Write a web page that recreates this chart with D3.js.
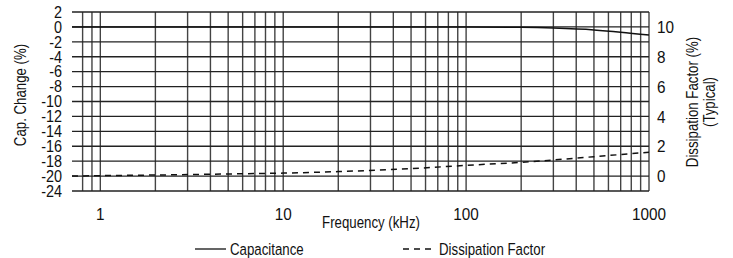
<!DOCTYPE html>
<html>
<head>
<meta charset="utf-8">
<script src="https://cdn.jsdelivr.net/npm/d3@7"></script>
<style>
  body { margin: 0; background: #fff; }
  text { font-family: "Liberation Sans", Arial, sans-serif; fill: #111; }
</style>
</head>
<body>
<script>
'use strict';

// data
const capFreq = [0.7, 1, 10, 100, 200, 300, 500, 700, 1000];
const capChange = [0, 0, 0, 0, -0.05, -0.15, -0.4, -0.7, -1.1];

const dfFreq = [0.7, 1, 2, 5, 10, 20, 50, 100, 200, 500, 1000];
const dfValue = [0.0, 0.03, 0.07, 0.14, 0.2, 0.3, 0.5, 0.72, 0.92, 1.3, 1.6];

const leftTicks = [2, 0, -2, -4, -6, -8, -10, -12, -14, -16, -18, -20, -24];
const rightTicks = [0, 2, 4, 6, 8, 10];
const xLabels = [1, 10, 100, 1000];

const width = 733, height = 258;
const margin = {left: 72, right: 84, top: 12, bottom: 67};

// no condensed font installed, so squeeze the text horizontally
const numScale = 0.9, txtScale = 0.78;

let svg = d3.select("body").append("svg")
    .attr("width", width)
    .attr("height", height);

let x = d3.scaleLog()
    .domain([0.7, 1000])
    .range([margin.left, width - margin.right]);

// the left axis jumps from -20 to -24 in one step
let y = d3.scaleLinear()
    .domain([-24, -20, 2])
    .range([height - margin.bottom, height - margin.bottom - 14.92, margin.top]);

let yDF = d3.scaleLinear()
    .domain([0, 10])
    .range([y(-20), y(0)]);

// vertical grid: every 1-9 step of each decade
let xGrid = [0.8, 0.9];
[1, 10, 100].forEach(function(dec) {
    for (let k = 1; k < 10; k++) xGrid.push(dec * k);
});
xGrid.push(1000);

let grid = svg.append("g");
grid.selectAll("line.v")
    .data(xGrid)
    .enter().append("line")
    .attr("x1", d => x(d)).attr("x2", d => x(d))
    .attr("y1", y(2)).attr("y2", y(-24))
    .attr("stroke", "#444")
    .attr("stroke-width", 1.4);

grid.selectAll("line.h")
    .data(leftTicks)
    .enter().append("line")
    .attr("x1", x(0.7)).attr("x2", x(1000))
    .attr("y1", d => y(d)).attr("y2", d => y(d))
    .attr("stroke", "#222")
    .attr("stroke-width", 1.3);

// left axis labels
svg.append("g")
    .selectAll("text")
    .data(leftTicks)
    .enter().append("text")
    .attr("transform", d => "translate(62," + y(d) + ") scale(" + numScale + ",1)")
    .attr("dy", "0.36em")
    .attr("text-anchor", "end")
    .style("font-size", "16px")
    .text(d => d);

// right axis labels
svg.append("g")
    .selectAll("text")
    .data(rightTicks)
    .enter().append("text")
    .attr("transform", d => "translate(657," + yDF(d) + ") scale(" + numScale + ",1)")
    .attr("dy", "0.36em")
    .style("font-size", "17px")
    .text(d => d);

// x axis labels
svg.append("g")
    .selectAll("text")
    .data(xLabels)
    .enter().append("text")
    .attr("transform", d => "translate(" + x(d) + ",214) scale(" + numScale + ",1)")
    .attr("dy", "0.36em")
    .attr("text-anchor", "middle")
    .style("font-size", "17px")
    .text(d => d);

svg.append("text")
    .attr("transform", "translate(371,228) scale(" + txtScale + ",1)")
    .attr("text-anchor", "middle")
    .style("font-size", "17px")
    .text("Frequency (kHz)");

svg.append("text")
    .attr("transform", "translate(26,95) rotate(-90) scale(" + txtScale + ",1)")
    .attr("text-anchor", "middle")
    .style("font-size", "17px")
    .text("Cap. Change (%)");

svg.append("text")
    .attr("transform", "translate(698,102) rotate(-90) scale(" + txtScale + ",1)")
    .attr("text-anchor", "middle")
    .style("font-size", "17px")
    .text("Dissipation Factor (%)");

svg.append("text")
    .attr("transform", "translate(715,102) rotate(-90) scale(" + txtScale + ",1)")
    .attr("text-anchor", "middle")
    .style("font-size", "17px")
    .text("(Typical)");

// curves
let capLine = d3.line()
    .x((d, i) => x(capFreq[i]))
    .y(d => y(d))
    .curve(d3.curveMonotoneX);

svg.append("path")
    .attr("d", capLine(capChange))
    .attr("fill", "none")
    .attr("stroke", "#111")
    .attr("stroke-width", 1.5);

let dfLine = d3.line()
    .x((d, i) => x(dfFreq[i]))
    .y(d => yDF(d))
    .curve(d3.curveMonotoneX);

svg.append("path")
    .attr("d", dfLine(dfValue))
    .attr("fill", "none")
    .attr("stroke", "#111")
    .attr("stroke-width", 1.5)
    .attr("stroke-dasharray", "6,5");

// legend
let legend = svg.append("g");
legend.append("line")
    .attr("x1", 195).attr("x2", 226)
    .attr("y1", 249).attr("y2", 249)
    .attr("stroke", "#111").attr("stroke-width", 1.3);
legend.append("text")
    .attr("transform", "translate(230,249) scale(" + txtScale + ",1)")
    .attr("dy", "0.36em")
    .style("font-size", "17px")
    .text("Capacitance");
legend.append("line")
    .attr("x1", 403).attr("x2", 432)
    .attr("y1", 249).attr("y2", 249)
    .attr("stroke", "#111").attr("stroke-width", 1.3)
    .attr("stroke-dasharray", "6,5");
legend.append("text")
    .attr("transform", "translate(439,249) scale(" + txtScale + ",1)")
    .attr("dy", "0.36em")
    .style("font-size", "17px")
    .text("Dissipation Factor");
</script>
</body>
</html>
